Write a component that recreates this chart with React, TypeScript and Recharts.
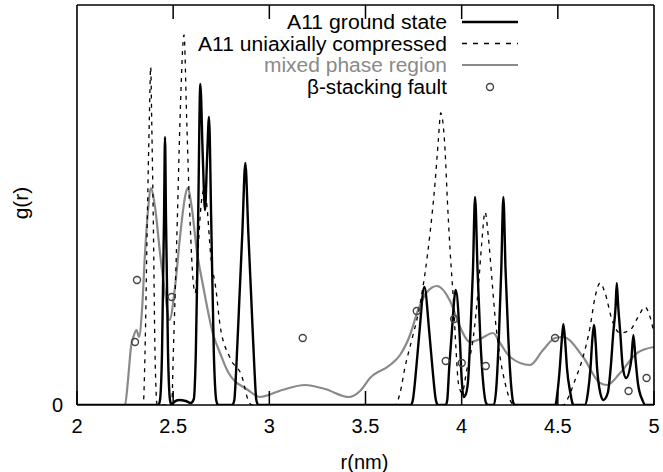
import React from 'react';
import { ComposedChart, Line, Scatter, XAxis, YAxis, Legend, Label, ReferenceLine } from 'recharts';

const FONT = '"Liberation Sans", Arial, Helvetica, sans-serif';

const xTicks = [2, 2.5, 3, 3.5, 4, 4.5, 5];
const yTicks = [0];
const xDomain: [number, number] = [2, 5];
const yDomain: [number, number] = [0, 400];
const seriesNames = ['A11 ground state', 'A11 uniaxially compressed', 'mixed phase region', 'β-stacking fault'];

// [r (nm), g(r)]
const groundState: [number, number][] = [
  [2.0, 0], [2.4236, 0], [2.4316, 5], [2.442, 52], [2.4524, 185], [2.4576, 268], [2.4628, 185], [2.4732, 52], [2.4836, 5], [2.4916, 0],
  [2.505, 3], [2.53, 5], [2.565, 4], [2.592, 2], [2.6074, 6], [2.6178, 52], [2.6298, 185], [2.6412, 321], [2.6537, 250], [2.6656, 195],
  [2.676, 245], [2.6864, 288], [2.6978, 185], [2.7114, 52], [2.7238, 5], [2.7332, 0], [2.8076, 0], [2.818, 5], [2.8284, 38], [2.844, 105],
  [2.8596, 172], [2.8752, 242], [2.8908, 172], [2.9064, 105], [2.922, 38], [2.9324, 5], [2.9428, 0], [3.7358, 0], [3.7462, 5], [3.7644, 38],
  [3.78, 72], [3.806, 118], [3.832, 72], [3.8476, 38], [3.8658, 5], [3.8762, 0], [3.9172, 0], [3.925, 5], [3.9354, 38], [3.9484, 72],
  [3.9692, 115], [3.99, 68], [4.0004, 25], [4.01, 8], [4.02, 10], [4.0332, 24], [4.0446, 68], [4.0587, 135], [4.0696, 208], [4.0826, 135],
  [4.0966, 68], [4.1138, 18], [4.1268, 2], [4.1372, 0], [4.1674, 0], [4.1804, 18], [4.1934, 68], [4.2059, 135], [4.2168, 208], [4.2282, 135],
  [4.2423, 68], [4.2579, 18], [4.2688, 2], [4.278, 0], [4.4872, 0], [4.4976, 12], [4.5106, 38], [4.5194, 62], [4.5288, 81], [4.5387, 62],
  [4.547, 38], [4.5652, 12], [4.5756, 2], [4.5808, 0], [4.6406, 0], [4.6562, 12], [4.6702, 38], [4.678, 62], [4.6874, 80], [4.6968, 62],
  [4.703, 40], [4.7207, 12], [4.7368, 5], [4.7596, 12], [4.7752, 38], [4.7882, 72], [4.8002, 98], [4.8064, 122], [4.8142, 98], [4.8246, 72],
  [4.8376, 38], [4.8548, 27], [4.8818, 45], [4.8928, 70], [4.9042, 45], [4.9162, 22], [4.9396, 5], [4.955, 0], [5.0, 0],
];

const compressed: [number, number][] = [
  [2.0, 0], [2.3442, 0], [2.3536, 52], [2.3655, 185], [2.376, 285], [2.3832, 338], [2.3884, 285], [2.3967, 185], [2.4056, 52], [2.417, 0],
  [2.4924, 0], [2.5008, 52], [2.5216, 185], [2.5356, 285], [2.5564, 370], [2.5704, 285], [2.5876, 185], [2.6048, 122], [2.615, 112], [2.628, 150],
  [2.645, 200], [2.66, 215], [2.675, 200], [2.695, 150], [2.7228, 115], [2.7436, 80], [2.796, 47], [2.8584, 28], [2.8896, 5], [2.91, 0],
  [3.6536, 0], [3.6796, 12], [3.7056, 38], [3.7404, 65], [3.7748, 92], [3.8096, 132], [3.8356, 172], [3.8616, 222], [3.8788, 265], [3.8912, 292],
  [3.9136, 255], [3.9256, 205], [3.9396, 155], [3.9568, 105], [3.9708, 55], [3.9828, 22], [4.002, 12], [4.0264, 35], [4.0608, 68], [4.0868, 118],
  [4.1044, 162], [4.1216, 193], [4.1388, 168], [4.1564, 128], [4.1736, 88], [4.1996, 48], [4.2256, 22], [4.2516, 5], [4.2724, 0], [4.53, 0],
  [4.56, 10], [4.5896, 25], [4.6312, 48], [4.6676, 78], [4.6936, 108], [4.7196, 122], [4.7456, 112], [4.782, 85], [4.8236, 72], [4.8756, 75],
  [4.9172, 88], [4.9536, 98], [4.9796, 88], [5.0, 72],
];

const mixedPhase: [number, number][] = [
  [2.0, 0], [2.2496, 0], [2.2652, 25], [2.2808, 58], [2.2964, 70], [2.3094, 75], [2.3224, 68], [2.338, 95], [2.3536, 152], [2.3708, 198],
  [2.3832, 217], [2.4056, 198], [2.4316, 152], [2.4576, 112], [2.481, 85], [2.5096, 118], [2.5356, 168], [2.5616, 208], [2.5746, 217], [2.5964, 198],
  [2.6224, 155], [2.6568, 118], [2.7088, 70], [2.7436, 52], [2.7852, 33], [2.8892, 15], [2.9516, 8], [3.066, 15], [3.1856, 20], [3.2896, 16],
  [3.4144, 8], [3.4716, 14], [3.5236, 27], [3.6276, 40], [3.6796, 50], [3.7316, 70], [3.7732, 95], [3.82, 113], [3.872, 119], [3.9396, 104],
  [3.9916, 78], [4.0436, 63], [4.0956, 66], [4.1632, 72], [4.1996, 62], [4.2516, 48], [4.3556, 40], [4.4232, 55], [4.4856, 67], [4.5272, 68],
  [4.6312, 48], [4.7196, 22], [4.756, 20], [4.8236, 32], [4.912, 52], [5.0, 58],
];

const stackingFault: [number, number][] = [
  [2.3016, 63], [2.312, 125], [2.4924, 108], [3.1736, 67], [3.7664, 94], [3.9172, 44], [3.9604, 86], [4.0004, 42], [4.1252, 39],
  [4.4856, 67], [4.8678, 14], [4.9614, 27],
];

// inward tick length in g(r) units (1 unit = 1 px on this axis)
const tickLen = 14;

const toPoints = (a: [number, number][]) => a.map(([r, g]) => ({ r, g }));

const groundData = toPoints(groundState);
const compressedData = toPoints(compressed);
const mixedData = toPoints(mixedPhase);
const faultData = toPoints(stackingFault);

const GRAY = '#8a8a8a';

const legendRows = [
  { name: seriesNames[0], color: '#000', kind: 'solid', len: 160 },
  { name: seriesNames[1], color: '#000', kind: 'dash', len: 249 },
  { name: seriesNames[2], color: GRAY, kind: 'gray', len: 183 },
  { name: seriesNames[3], color: '#000', kind: 'circle', len: 140 },
];

const LegendContent = () => {
  const textRight = 447;
  const x1 = 462;
  const x2 = 518;
  const rowY = [22, 43.5, 65, 87];
  return (
    <svg width={663} height={100} style={{ display: 'block', pointerEvents: 'none' }}>
      {legendRows.map((row, i) => {
        const y = rowY[i];
        return (
          <g key={row.name}>
            <text x={textRight} y={y + 7} textAnchor="end" fontFamily={FONT} fontSize={20} fill={row.color}
              textLength={row.len} lengthAdjust="spacingAndGlyphs">
              {row.name}
            </text>
            {row.kind === 'solid' && <line x1={x1} x2={x2} y1={y} y2={y} stroke="#000" strokeWidth={2.4} />}
            {row.kind === 'dash' && <line x1={x1} x2={x2} y1={y} y2={y} stroke="#000" strokeWidth={1.3} strokeDasharray="5 6" />}
            {row.kind === 'gray' && <line x1={x1} x2={x2} y1={y} y2={y} stroke={GRAY} strokeWidth={2.2} />}
            {row.kind === 'circle' && <circle cx={490} cy={y} r={3.5} fill="none" stroke="#444" strokeWidth={1.4} />}
          </g>
        );
      })}
    </svg>
  );
};

const CircleShape = (props: any) => {
  const { cx, cy } = props;
  if (cx == null || cy == null) return <g />;
  return <circle cx={cx} cy={cy} r={3.5} fill="none" stroke="#444" strokeWidth={1.4} />;
};

const tickStyle = { fontFamily: FONT, fontSize: 20, fill: '#000' };

export default function App() {
  return (
    <div style={{ position: 'absolute', left: 0, top: 0, width: 663, height: 472, background: '#fff' }}>
      <ComposedChart width={663} height={472} margin={{ top: 4, right: 0, bottom: 0, left: 0 }}>
        <XAxis dataKey="r" type="number" domain={xDomain} ticks={xTicks} allowDataOverflow height={67}
          axisLine={{ stroke: '#000', strokeWidth: 1.6 }} tickLine={{ stroke: '#000', strokeWidth: 1.5 }}
          tickSize={-14} tickMargin={28} tick={tickStyle} interval={0}>
          <Label content={(p: any) => {
            const vb = p.viewBox || { x: 77, y: 405, width: 577, height: 67 };
            return (
              <text x={vb.x + vb.width / 2 - 1} y={vb.y + 64} textAnchor="middle" fontFamily={FONT} fontSize={20} fill="#000">r(nm)</text>
            );
          }} />
        </XAxis>
        <XAxis xAxisId="top" orientation="top" dataKey="r" type="number" domain={xDomain} ticks={xTicks} allowDataOverflow
          height={1} axisLine={{ stroke: '#000', strokeWidth: 1.6 }} tickLine={false} tick={false} interval={0} />
        <YAxis dataKey="g" type="number" domain={yDomain} ticks={yTicks} allowDataOverflow width={77}
          axisLine={{ stroke: '#000', strokeWidth: 1.6 }} tickLine={false} tickSize={0} tickMargin={14} tick={tickStyle}>
          <Label content={(p: any) => {
            const vb = p.viewBox || { x: 0, y: 5, width: 77, height: 400 };
            const cx = vb.x + 20;
            const cy = vb.y + vb.height / 2 - 2;
            return (
              <text x={cx} y={cy} transform={`rotate(-90 ${cx} ${cy})`} textAnchor="middle" dominantBaseline="central"
                fontFamily={FONT} fontSize={21} fill="#000">g(r)</text>
            );
          }} />
        </YAxis>
        <YAxis yAxisId="right" orientation="right" type="number" domain={yDomain} allowDataOverflow width={9}
          axisLine={{ stroke: '#000', strokeWidth: 1.6 }} tickLine={false} tick={false} />
        <Legend layout="vertical" align="center" verticalAlign="middle" content={<LegendContent />}
          wrapperStyle={{ position: 'absolute', left: 0, top: 0, width: 663, height: 100 }} />
        <Line name={seriesNames[2]} data={mixedData} dataKey="g" type="monotone" stroke={GRAY} strokeWidth={2.2}
          dot={false} activeDot={false} isAnimationActive={false} />
        <Line name={seriesNames[1]} data={compressedData} dataKey="g" type="monotone" stroke="#000" strokeWidth={1.3}
          strokeDasharray="4 5" dot={false} activeDot={false} isAnimationActive={false} />
        <Line name={seriesNames[0]} data={groundData} dataKey="g" type="monotone" stroke="#000" strokeWidth={2.4}
          dot={false} activeDot={false} isAnimationActive={false} />
        <Scatter name={seriesNames[3]} data={faultData} dataKey="g" shape={<CircleShape />} isAnimationActive={false} />
        {xTicks.slice(1, -1).map((t) => (
          <ReferenceLine key={`t${t}`} segment={[{ x: t, y: yDomain[1] }, { x: t, y: yDomain[1] - tickLen }]}
            stroke="#000" strokeWidth={1.5} ifOverflow="visible" />
        ))}
      </ComposedChart>
    </div>
  );
}
